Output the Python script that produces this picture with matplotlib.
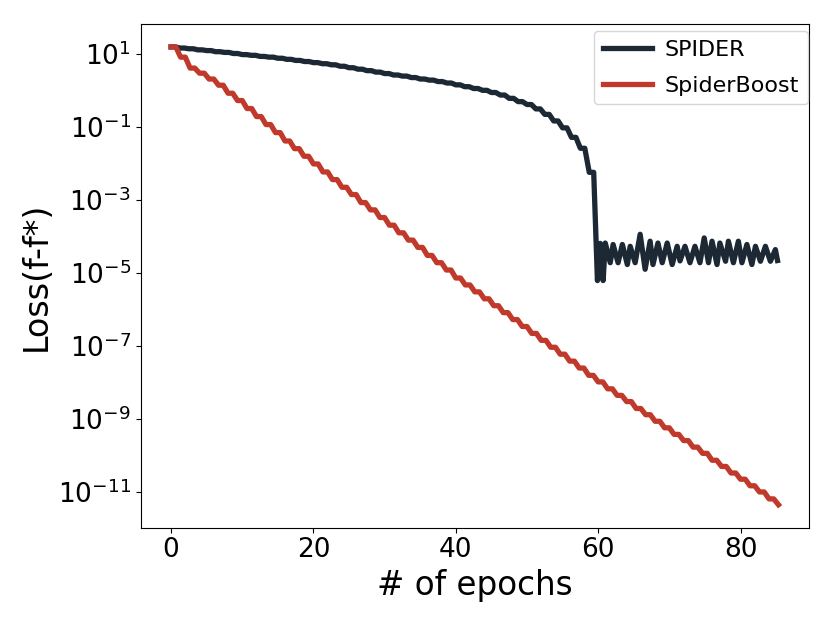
import numpy as np
import matplotlib
matplotlib.use("Agg")
import matplotlib.pyplot as plt

# ---------------- data (log10 of loss values) ----------------
# SPIDER: one level per inner-loop period (period 1.25 epochs) before the collapse
spider_period = 1.25
spider_levels = [1.20, 1.17, 1.15, 1.12, 1.10, 1.07, 1.05, 1.02, 0.99, 0.97,
                 0.94, 0.92, 0.89, 0.86, 0.83, 0.80, 0.77, 0.74, 0.71, 0.67,
                 0.63, 0.59, 0.55, 0.51, 0.47, 0.43, 0.40, 0.36, 0.32, 0.29,
                 0.25, 0.21, 0.16, 0.11, 0.06, 0.01, -0.05, -0.12, -0.21, -0.30,
                 -0.38, -0.50, -0.65, -0.83, -1.02, -1.28, -1.58, -2.24]
# SPIDER after the collapse: oscillating tail
spider_tail_x = [59.9, 60.3, 60.7, 61.0, 61.7, 62.1, 62.8, 63.4, 64.1, 64.5,
                 65.2, 65.9, 66.6, 67.3, 67.7, 68.4, 69.0, 69.7, 70.4, 71.1,
                 71.5, 72.2, 72.9, 73.6, 74.3, 74.9, 75.5, 76.0, 76.7, 77.1,
                 77.9, 78.3, 79.0, 79.7, 80.2, 80.9, 81.6, 82.1, 82.8, 83.5,
                 84.2, 84.9, 85.2]
spider_tail_y = [-5.21, -4.19, -5.21, -4.18, -4.72, -4.22, -4.72, -4.22, -4.77, -4.27,
                 -4.72, -3.94, -4.90, -4.13, -4.77, -4.18, -4.72, -4.18, -4.77, -4.27,
                 -4.67, -4.27, -4.72, -4.27, -4.72, -4.04, -4.72, -4.13, -4.77, -4.18,
                 -4.68, -4.13, -4.72, -4.13, -4.72, -4.22, -4.77, -4.27, -4.68, -4.27,
                 -4.68, -4.36, -4.66]

# SpiderBoost: one level per period (period 4/3 epoch)
boost_period = 4.0 / 3.0
boost_levels = [1.20, 0.92, 0.62, 0.48, 0.32, 0.15, -0.07, -0.27, -0.49, -0.71,
                -0.93, -1.15, -1.38, -1.59, -1.80, -2.01, -2.23, -2.44, -2.65, -2.85,
                -3.07, -3.27, -3.48, -3.69, -3.90, -4.10, -4.30, -4.52, -4.72, -4.92,
                -5.14, -5.33, -5.52, -5.71, -5.90, -6.09, -6.28, -6.47, -6.66, -6.85,
                -7.04, -7.23, -7.42, -7.61, -7.81, -7.99, -8.18, -8.36, -8.53, -8.72,
                -8.89, -9.07, -9.25, -9.43, -9.60, -9.78, -9.95, -10.14, -10.31, -10.49,
                -10.66, -10.84, -11.01, -11.20, -11.36]

labels = ["SPIDER", "SpiderBoost"]
colors = ["#1c2833", "#c0392b"]
yticks_exp = [1, -1, -3, -5, -7, -9, -11]


def staircase(levels, period, flat_frac=0.5, extend_last=True):
    xs, ys = [], []
    n = len(levels)
    for k, v in enumerate(levels):
        x0 = k * period
        xs.append(x0)
        ys.append(v)
        if k < n - 1 or extend_last:
            xs.append(x0 + flat_frac * period)
            ys.append(v)
    return np.array(xs), np.array(ys)


sx, sy = staircase(spider_levels, spider_period, extend_last=True)
sx = np.concatenate([sx, spider_tail_x])
sy = np.concatenate([sy, spider_tail_y])
bx, by = staircase(boost_levels, boost_period, extend_last=False)

# ---------------- plot ----------------
fig = plt.figure(figsize=(8.3, 6.23), dpi=100)
ax = fig.add_axes([0.1695, 0.153, 0.805, 0.8085])

ax.plot(sx, 10.0 ** sy, color=colors[0], lw=3.8, label=labels[0])
ax.plot(bx, 10.0 ** by, color=colors[1], lw=3.8, label=labels[1])

ax.set_yscale("log")
ax.set_xlim(-4.27, 89.6)
ax.set_ylim(10 ** -11.99, 10 ** 1.83)
ax.set_yticks([10.0 ** e for e in yticks_exp])
ax.yaxis.set_minor_locator(matplotlib.ticker.NullLocator())
ax.set_xticks([0, 20, 40, 60, 80])
ax.tick_params(axis="both", labelsize=19)

ax.set_xlabel("# of epochs", fontsize=23.5)
ax.set_ylabel("Loss(f-f*)", fontsize=24)

ax.legend(loc="upper right", bbox_to_anchor=(1.009, 1.0), fontsize=16,
          handlelength=2.2, handletextpad=0.6, borderaxespad=0.3,
          labelspacing=0.72)

fig.savefig("out.png", dpi=100)
